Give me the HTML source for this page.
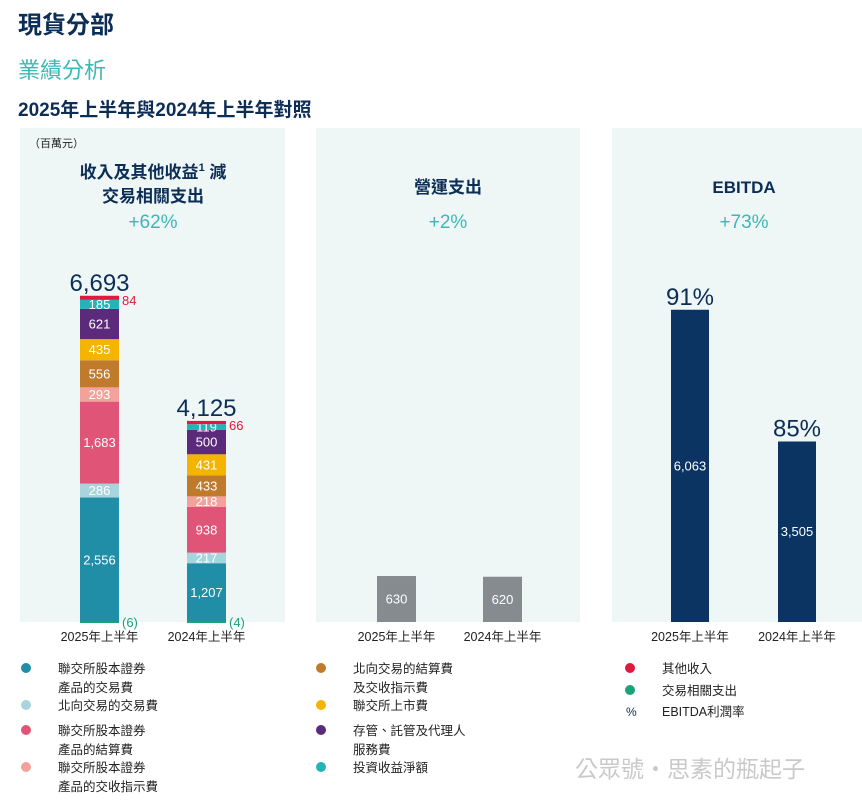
<!DOCTYPE html>
<html><head><meta charset="utf-8">
<style>
body{margin:0;background:#fff;width:862px;height:797px;overflow:hidden;font-family:"Liberation Sans","Noto Sans CJK TC",sans-serif;}
svg text{font-family:"Liberation Sans","Noto Sans CJK TC",sans-serif;}
</style></head>
<body>
<svg id="chart" width="862" height="797" xmlns="http://www.w3.org/2000/svg">
<text x="18" y="33" font-size="24" font-weight="bold" fill="#0c2d55">現貨分部</text>
<text x="18" y="78" font-size="22" fill="#3bb8b5">業績分析</text>
<text x="18" y="116" font-size="19" font-weight="bold" fill="#0c2d55">2025年上半年與2024年上半年對照</text>
<rect x="20" y="128" width="265" height="494" fill="#eef7f6"/>
<rect x="316" y="128" width="264" height="494" fill="#eef7f6"/>
<rect x="612" y="128" width="250" height="494" fill="#eef7f6"/>
<text x="29" y="147" font-size="11" fill="#222">（百萬元）</text>
<text x="153" y="178" font-size="17" font-weight="bold" fill="#0c2d55" text-anchor="middle">收入及其他收益<tspan font-size="11" dy="-7">1</tspan><tspan dy="7"> 減</tspan></text>
<text x="153" y="202" font-size="17" font-weight="bold" fill="#0c2d55" text-anchor="middle">交易相關支出</text>
<text x="153" y="228" font-size="19" fill="#3bb8b5" text-anchor="middle">+62%</text>
<text x="448" y="193" font-size="17" font-weight="bold" fill="#0c2d55" text-anchor="middle">營運支出</text>
<text x="448" y="228" font-size="19" fill="#3bb8b5" text-anchor="middle">+2%</text>
<text x="744" y="193" font-size="17" font-weight="bold" fill="#0c2d55" text-anchor="middle">EBITDA</text>
<text x="744" y="228" font-size="19" fill="#3bb8b5" text-anchor="middle">+73%</text>
<g id="g1"></g><g id="g2"></g><g id="g3"></g><g id="legend"></g>
</svg>
<script>
const periods = ["2025年上半年","2024年上半年"];
const segNames = ["聯交所股本證券產品的交易費","北向交易的交易費","聯交所股本證券產品的結算費","聯交所股本證券產品的交收指示費","北向交易的結算費及交收指示費","聯交所上市費","存管、託管及代理人服務費","投資收益淨額","其他收入"];
const segColors = ["#1f8ea6","#a8d4dd","#e05577","#f3a29b","#c07a2c","#f5b400","#5b2a7a","#22b5b8","#e0193f"];
const seg2025 = [2556,286,1683,293,556,435,621,185,84];
const seg2024 = [1207,217,938,218,433,431,500,119,66];
const txnCost = [-6,-4];
const totals = ["6,693","4,125"];
const opex = [630,620];
const ebitda = [6063,3505];
const margin = ["91%","85%"];

const NS="http://www.w3.org/2000/svg";
function el(p,tag,attrs,txt){const e=document.createElementNS(NS,tag);for(const k in attrs)e.setAttribute(k,attrs[k]);if(txt!==undefined)e.textContent=txt;p.appendChild(e);return e;}
const base=622;
const fmt=v=>v.toLocaleString('en-US');

// panel 1
const y1=v=>v*0.0487;
const g1=document.getElementById('g1');
const bx1=[80,187], bw=39;
[seg2025,seg2024].forEach((vals,i)=>{
  let cum=0;
  vals.forEach((v,j)=>{
    const h=y1(v), top=base-y1(cum)-h;
    const r=el(g1,'rect',{x:bx1[i],y:top,width:bw,height:h,fill:segColors[j]});
    
    
    if(j<8){const t=el(g1,'text',{x:bx1[i]+bw/2,y:top+h/2+4.5,'font-size':13,fill:'#fff','text-anchor':'middle'},fmt(v));
      
      }
    else{const t=el(g1,'text',{x:bx1[i]+bw+3,y:top+9,'font-size':13,fill:'#e0193f'},fmt(v));
      
      }
    cum+=v;
  });
  const r=el(g1,'rect',{x:bx1[i],y:base-1,width:bw,height:2,fill:'#1aa37a'});
  
  
  const tc=el(g1,'text',{x:bx1[i]+bw+3,y:base+5,'font-size':13,fill:'#1aa37a'},'('+Math.abs(txnCost[i])+')');
  
  
  const tt=el(g1,'text',{x:bx1[i]+bw/2,y:base-y1(cum)-5,'font-size':24,fill:'#0c2d55','text-anchor':'middle'},totals[i]);
  
  
  const xl=el(g1,'text',{x:bx1[i]+bw/2,y:641,'font-size':12.5,fill:'#222','text-anchor':'middle'},periods[i]);
  
  
});
// panel 2
const g2=document.getElementById('g2');
const bx2=[377,483];
opex.forEach((v,i)=>{
  const h=v*0.073;
  const r=el(g2,'rect',{x:bx2[i],y:base-h,width:bw,height:h,fill:'#868b90'});
  
  
  const t=el(g2,'text',{x:bx2[i]+bw/2,y:base-h/2+4.5,'font-size':13,fill:'#fff','text-anchor':'middle'},fmt(v));
  
  
  const xl=el(g2,'text',{x:bx2[i]+bw/2,y:641,'font-size':12.5,fill:'#222','text-anchor':'middle'},periods[i]);
  
  
});
// panel 3
const g3=document.getElementById('g3');
const bx3=[671,778];
ebitda.forEach((v,i)=>{
  const h=v*0.0515;
  const r=el(g3,'rect',{x:bx3[i],y:base-h,width:38,height:h,fill:'#0b3463'});
  
  
  const t=el(g3,'text',{x:bx3[i]+19,y:base-h/2+4.5,'font-size':13,fill:'#fff','text-anchor':'middle'},fmt(v));
  
  
  const m=el(g3,'text',{x:bx3[i]+19,y:base-h-5,'font-size':24,fill:'#0c2d55','text-anchor':'middle'},margin[i]);
  
  
  const xl=el(g3,'text',{x:bx3[i]+19,y:641,'font-size':12.5,fill:'#222','text-anchor':'middle'},periods[i]);
  
  
});
// legend
const lg=document.getElementById('legend');
const legItems=[
 [26,668,"#1f8ea6",["聯交所股本證券","產品的交易費"]],
 [26,705,"#a8d4dd",["北向交易的交易費"]],
 [26,730,"#e05577",["聯交所股本證券","產品的結算費"]],
 [26,767,"#f3a29b",["聯交所股本證券","產品的交收指示費"]],
 [321,668,"#c07a2c",["北向交易的結算費","及交收指示費"]],
 [321,705,"#f5b400",["聯交所上市費"]],
 [321,730,"#5b2a7a",["存管、託管及代理人","服務費"]],
 [321,767,"#22b5b8",["投資收益淨額"]],
 [630,668,"#e0193f",["其他收入"]],
 [630,690,"#1aa37a",["交易相關支出"]]
];
legItems.forEach(it=>{
  const c=el(lg,'circle',{cx:it[0],cy:it[1],r:5,fill:it[2]});
  
  
  it[3].forEach((s,k)=>{
    const t=el(lg,'text',{x:it[0]+32,y:it[1]+5+k*19,'font-size':12.5,fill:'#222'},s);
    
    
  });
});
const p=el(lg,'text',{x:626,y:716,'font-size':12,fill:'#0c2d55'},'%');


const pl=el(lg,'text',{x:662,y:716,'font-size':12.5,fill:'#222'},'EBITDA利潤率');


const wm=el(lg,'text',{x:575,y:777,'font-size':23,fill:'#bbb','fill-opacity':'0.8'},'公眾號・思素的瓶起子');


</script>
</body></html>
